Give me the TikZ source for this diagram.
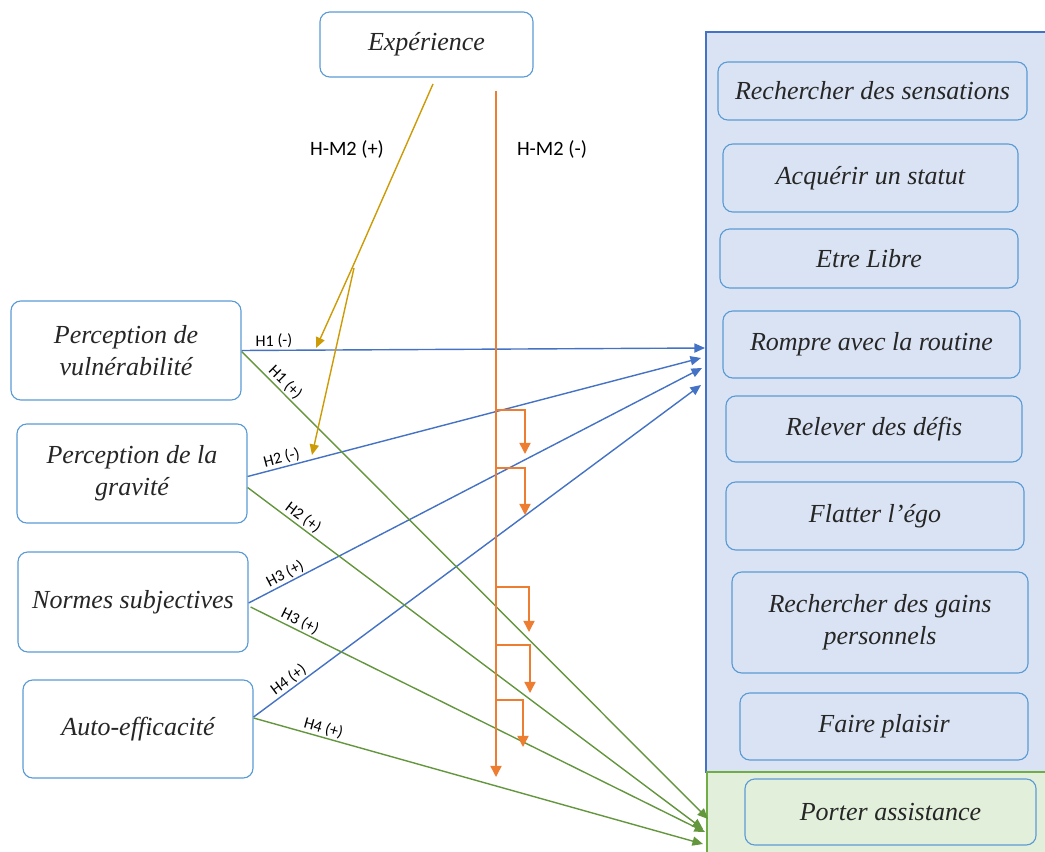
\documentclass[tikz,border=0pt]{standalone}
\usepackage{fontspec}
\setmainfont{Liberation Serif}
\newfontfamily\labelfont{Carlito}
\usetikzlibrary{arrows.meta,calc}
\definecolor{boxblue}{RGB}{91,155,213}
\definecolor{panelblue}{RGB}{218,227,243}
\definecolor{panelborder}{RGB}{68,114,196}
\definecolor{panelgreen}{RGB}{226,239,218}
\definecolor{greenborder}{RGB}{112,173,71}
\definecolor{linkblue}{RGB}{68,114,196}
\definecolor{linkgreen}{RGB}{100,150,62}
\definecolor{modorange}{RGB}{237,125,49}
\definecolor{modgold}{RGB}{205,155,5}

\begin{document}
\begin{tikzpicture}[
  x=0.025cm, y=-0.025cm,
  >={Triangle[length=7.5pt,width=6.5pt]},
  box/.style={draw=boxblue, line width=0.8pt, rounded corners=7pt, fill=white,
    align=center, text=black!85, font=\fontsize{18.5}{23}\selectfont\itshape},
  inbox/.style={box, fill=panelblue},
  greenbox/.style={box, fill=panelgreen},
  panel/.style={line width=0.9pt},
  bluelink/.style={->, draw=linkblue, line width=1pt},
  greenlink/.style={->, draw=linkgreen, line width=1pt},
  modlink/.style={->, draw=modorange, line width=1.1pt, >={Triangle[length=8pt,width=8pt]}},
  goldlink/.style={->, draw=modgold, line width=1pt},
  hyp/.style={font=\labelfont\fontsize{11.5}{13}\selectfont, inner sep=1pt, sloped, above},
  modlabel/.style={font=\labelfont\fontsize{14.5}{17}\selectfont}
]
\useasboundingbox (0,0) rectangle (1045,852);

% Motive panels.
\draw[panel, draw=panelborder, fill=panelblue] (706,32) rectangle (1050,772);
\draw[panel, draw=greenborder, fill=panelgreen] (707,772) rectangle (1050,856);

\node[inbox, minimum width=7.725cm, minimum height=1.45cm] (sensations) at (872.5,91) {Rechercher des sensations};
\node[inbox, minimum width=7.375cm, minimum height=1.7cm] (statut) at (870.5,178) {Acquérir un statut};
\node[inbox, minimum width=7.45cm, minimum height=1.475cm] (libre) at (869,258.5) {Etre Libre};
\node[inbox, minimum width=7.425cm, minimum height=1.675cm] (routine) at (871.5,344.5) {Rompre avec la routine};
\node[inbox, minimum width=7.4cm, minimum height=1.65cm] (defis) at (874,429) {Relever des défis};
\node[inbox, minimum width=7.45cm, minimum height=1.7cm] (ego) at (875,516) {Flatter l’égo};
\node[inbox, minimum width=7.4cm, minimum height=2.525cm] (gains) at (880,622.5) {Rechercher des gains\\personnels};
\node[inbox, minimum width=7.2cm, minimum height=1.675cm] (plaisir) at (884,726.5) {Faire plaisir};
\node[greenbox, minimum width=7.275cm, minimum height=1.65cm] (assistance) at (890.5,812) {Porter assistance};

% Predictors.
\node[box, minimum width=5.325cm, minimum height=1.625cm] (experience) at (426.5,44.5) {Expérience};
\node[box, minimum width=5.75cm, minimum height=2.475cm] (vuln) at (126,350.5) {Perception de\\vulnérabilité};
\node[box, minimum width=5.75cm, minimum height=2.475cm] (grav) at (132,473.5) {Perception de la\\gravité};
\node[box, minimum width=5.75cm, minimum height=2.5cm] (normes) at (133,602) {Normes subjectives};
\node[box, minimum width=5.75cm, minimum height=2.45cm] (auto) at (138,729) {Auto-efficacité};

% Arrow ends on the panels.
\coordinate (bH1) at (705,348);
\coordinate (bH2) at (701,358);
\coordinate (bH3) at (702,368);
\coordinate (bH4) at (701,385);
\coordinate (gH1) at (708,819);
\coordinate (gH2) at (703,829);
\coordinate (gH3) at (705,832);
\coordinate (gH4) at (703,844);

% Hypotheses towards the blue panel.
\draw[bluelink] (vuln.east) -- node[hyp, pos=0.07] {H1 (-)} (bH1);
\draw[bluelink] ($(grav.east)+(0,3)$) -- node[hyp, pos=0.08] {H2 (-)} (bH2);
\draw[bluelink] ($(normes.east)+(0,1)$) -- node[hyp, pos=0.09] {H3 (+)} (bH3);
\draw[bluelink] ($(auto.east)+(0,-12)$) -- node[hyp, pos=0.09] {H4 (+)} (bH4);

% Hypotheses towards the green panel.
\draw[greenlink] ($(vuln.east)+(0,1)$) -- node[hyp, pos=0.08] {H1 (+)} (gH1);
\draw[greenlink] ($(grav.east)+(0,14)$) -- node[hyp, pos=0.11] {H2 (+)} (gH2);
\draw[greenlink] ($(normes.east)+(2,5)$) -- node[hyp, pos=0.1] {H3 (+)} (gH3);
\draw[greenlink] ($(auto.east)+(0,-11)$) -- node[hyp, pos=0.15] {H4 (+)} (gH4);

% Moderation by experience.
\coordinate (gtop) at (433,84);
\coordinate (gsplit) at (353,266);
\draw[draw=modgold, line width=1pt] (gtop) -- (gsplit);
\draw[goldlink] (gsplit) -- (316,348);
\draw[goldlink] ($(gsplit)+(1,2)$) -- (312,455);
\node[modlabel] (hmplus) at (347,149) {H-M2 (+)};

\coordinate (mtop) at (496,91);
\coordinate (mbot) at (496,777);
\draw[modlink] (mtop) -- (mbot);
\foreach \ya/\xb/\yb in {410/525/454, 468/525/515, 587/529/632, 645/530/693, 700/523/747}
  \draw[modlink] (496,\ya) -| (\xb,\yb);
\node[modlabel] (hmminus) at (552,149) {H-M2 (-)};

\end{tikzpicture}
\end{document}
